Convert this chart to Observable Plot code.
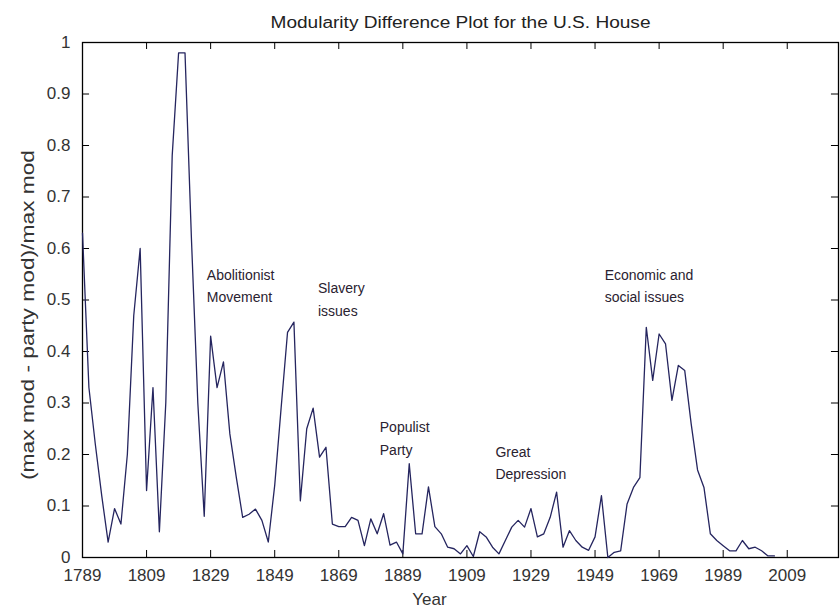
<!DOCTYPE html>
<html>
<head>
<meta charset="utf-8">
<script src="https://cdn.jsdelivr.net/npm/d3@7"></script>
<script src="https://cdn.jsdelivr.net/npm/@observablehq/plot@0.6"></script>
<style>
  html, body { margin: 0; padding: 0; background: #fff; }
  #chart { width: 840px; height: 610px; }
</style>
</head>
<body>
<div id="chart"></div>
<script>
const years = [1789,1791,1793,1795,1797,1799,1801,1803,1805,1807,1809,1811,1813,1815,1817,1819,1821,1823,1825,1827,
  1829,1831,1833,1835,1837,1839,1841,1843,1845,1847,1849,1851,1853,1855,1857,1859,1861,1863,1865,1867,
  1869,1871,1873,1875,1877,1879,1881,1883,1885,1887,1889,1891,1893,1895,1897,1899,1901,1903,1905,1907,
  1909,1911,1913,1915,1917,1919,1921,1923,1925,1927,1929,1931,1933,1935,1937,1939,1941,1943,1945,1947,
  1949,1951,1953,1955,1957,1959,1961,1963,1965,1967,1969,1971,1973,1975,1977,1979,1981,1983,1985,1987,
  1989,1991,1993,1995,1997,1999,2001,2003,2005];
const values = [0.63,0.33,0.22,0.12,0.03,0.095,0.065,0.20,0.47,0.60,0.13,0.33,0.05,0.30,0.78,0.98,0.98,0.62,0.30,0.08,
  0.43,0.33,0.38,0.24,0.156,0.078,0.084,0.094,0.072,0.03,0.14,0.29,0.437,0.457,0.11,0.25,0.29,0.195,0.214,0.065,
  0.06,0.06,0.078,0.072,0.023,0.075,0.046,0.085,0.024,0.03,0.007,0.182,0.046,0.046,0.137,0.06,0.046,0.02,0.017,0.007,
  0.023,0.002,0.05,0.04,0.02,0.007,0.033,0.059,0.072,0.059,0.095,0.04,0.046,0.078,0.127,0.02,0.052,0.033,0.02,0.014,
  0.04,0.12,0.0,0.01,0.013,0.104,0.136,0.155,0.447,0.344,0.434,0.415,0.305,0.373,0.363,0.26,0.17,0.136,0.046,0.033,
  0.023,0.013,0.013,0.033,0.017,0.02,0.013,0.003,0.003];

const xTicks = [1789,1809,1829,1849,1869,1889,1909,1929,1949,1969,1989,2009];
const yTicks = [0,0.1,0.2,0.3,0.4,0.5,0.6,0.7,0.8,0.9,1];
const yTickLabels = ["0","0.1","0.2","0.3","0.4","0.5","0.6","0.7","0.8","0.9","1"];

const noteTexts = ["Abolitionist\nMovement","Slavery\nissues","Populist\nParty","Great\nDepression","Economic and\nsocial issues"];
const noteYears = [1827.8,1862.5,1881.8,1917.9,1952];
const noteValues = [0.571,0.544,0.274,0.227,0.571];

const titleText = "Modularity Difference Plot for the U.S. House";
const xLabel = "Year";
const yLabel = "(max mod - party mod)/max mod";

const series = years.map((y, i) => ({year: y, value: values[i]}));
const notes = noteTexts.map((t, i) => ({text: t, year: noteYears[i], value: noteValues[i]}));

const xMin = 1789, xMax = 2025;
const tickX = 2.2, tickY = 0.0136;

const plot = Plot.plot({
  width: 840,
  height: 610,
  marginLeft: 82,
  marginRight: 2,
  marginTop: 42,
  marginBottom: 53,
  style: {fontFamily: "'Liberation Sans', Arial, sans-serif", background: "#fff", color: "#222"},
  x: {domain: [xMin, xMax], ticks: xTicks, tickFormat: d => String(d)},
  y: {domain: [0, 1], ticks: yTicks, tickFormat: d => yTickLabels[yTicks.indexOf(d)]},
  marks: [
    Plot.axisX({ticks: xTicks, tickSize: 0, tickPadding: 11, fontSize: 17, label: null, tickFormat: d => String(d), fill: "#333"}),
    Plot.axisY({ticks: yTicks, tickSize: 0, tickPadding: 12, fontSize: 17, label: null,
      tickFormat: d => yTickLabels[yTicks.indexOf(d)], fill: "#333"}),
    // inward ticks (bottom, top, left, right)
    Plot.ruleX(xTicks, {x: d => d, y1: 0, y2: tickY, stroke: "#000", strokeWidth: 1}),
    Plot.ruleX(xTicks, {x: d => d, y1: 1, y2: 1 - tickY, stroke: "#000", strokeWidth: 1}),
    Plot.ruleY(yTicks, {y: d => d, x1: xMin, x2: xMin + tickX, stroke: "#000", strokeWidth: 1}),
    Plot.ruleY(yTicks, {y: d => d, x1: xMax, x2: xMax - tickX, stroke: "#000", strokeWidth: 1}),
    Plot.frame({stroke: "#000", strokeWidth: 1.3}),
    Plot.line(series, {x: "year", y: "value", stroke: "#25255f", strokeWidth: 1.3}),
    Plot.text(notes, {x: "year", y: "value", text: "text", textAnchor: "start", lineAnchor: "top",
      lineHeight: 1.62, fontSize: 14, fill: "#2a2230"}),
    Plot.text([titleText], {frameAnchor: "top", dy: -20, fontSize: 16, fill: "#222", lineAnchor: "middle", textAnchor: "middle"}),
    Plot.text([xLabel], {frameAnchor: "bottom", dx: -31, dy: 42, fontSize: 17, fill: "#333", lineAnchor: "middle", textAnchor: "middle"}),
    Plot.text([yLabel], {frameAnchor: "left", dx: -54, dy: 15, rotate: -90, fontSize: 18, fill: "#333",
      lineAnchor: "middle", textAnchor: "middle"})
  ]
});

document.getElementById("chart").appendChild(plot);

// stretch title and y label to the reference's width
d3.select(plot).selectAll("text").each(function() {
  const t = this.textContent;
  if (t === titleText) {
    this.setAttribute("textLength", 380);
    this.setAttribute("lengthAdjust", "spacingAndGlyphs");
  } else if (t === yLabel) {
    this.setAttribute("textLength", 330);
    this.setAttribute("lengthAdjust", "spacingAndGlyphs");
  }
});
</script>
</body>
</html>
